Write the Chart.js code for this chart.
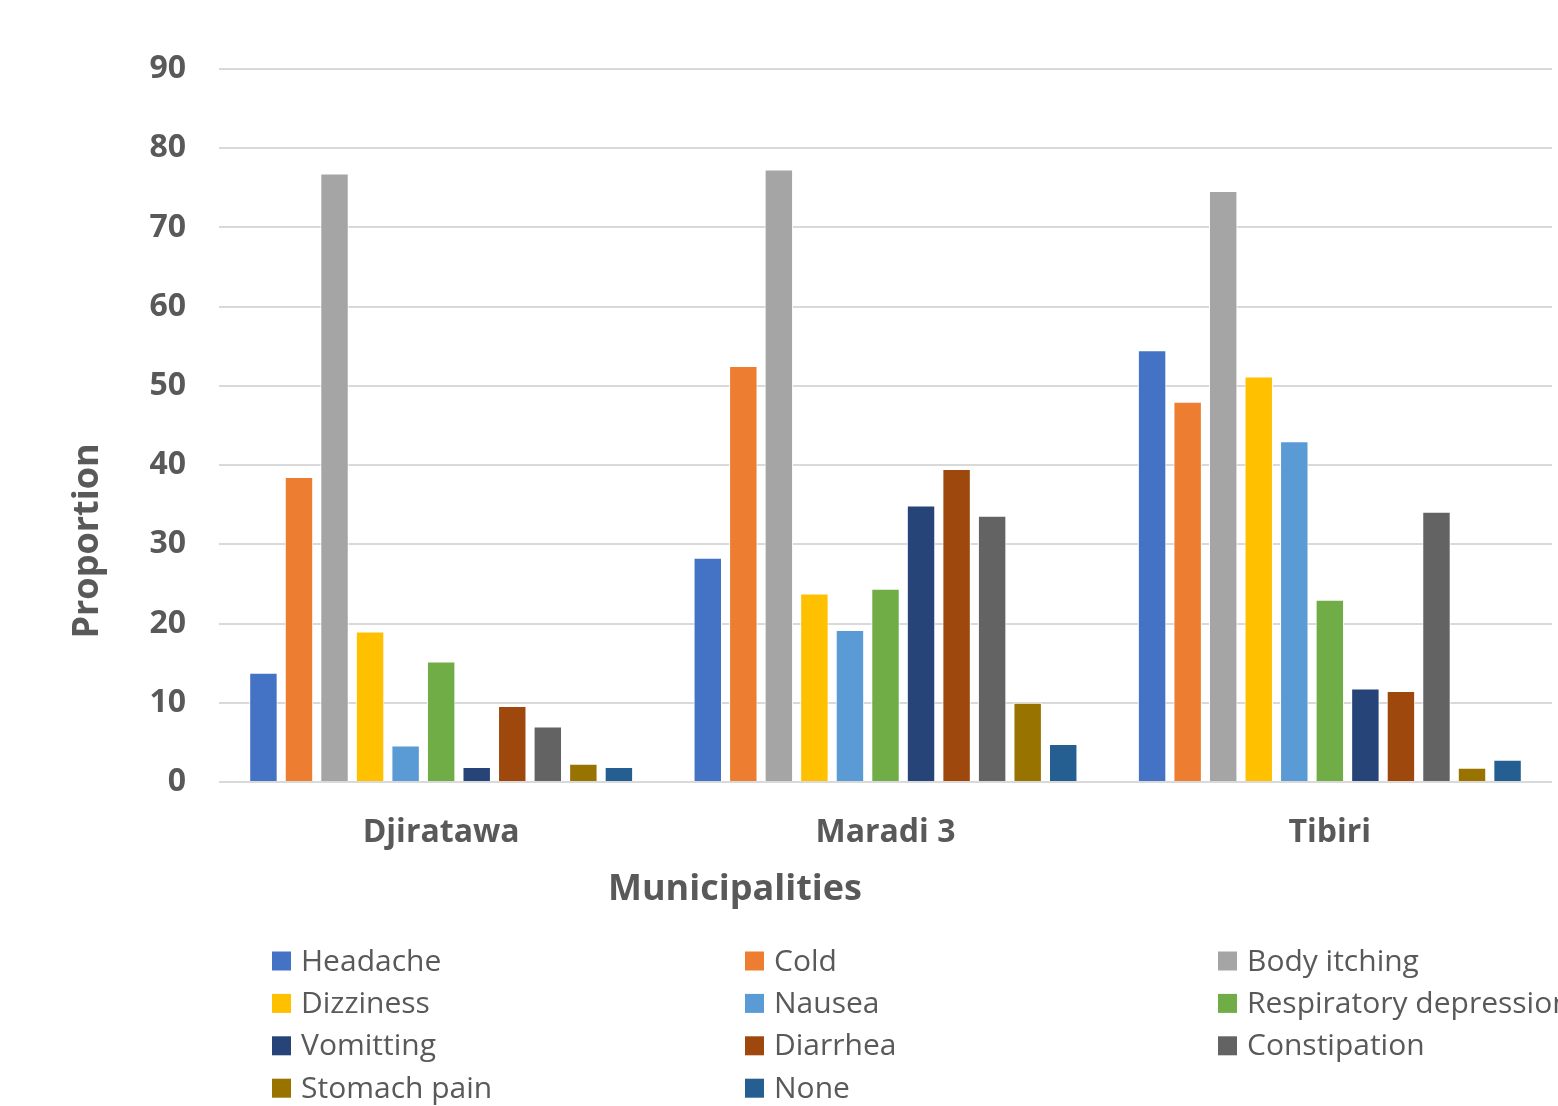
<!DOCTYPE html>
<html>
<head>
<meta charset="utf-8">
<script src="https://cdn.jsdelivr.net/npm/chart.js@4.4.0/dist/chart.umd.min.js"></script>
<style>
  html, body { margin: 0; padding: 0; background: #fff; overflow: hidden; }
  #wrap { width: 1558px; height: 1106px; }
</style>
</head>
<body>
<div id="wrap"><canvas id="symptomChart" width="1558" height="1106"></canvas></div>
<script>
// データ
const municipalities = ['Djiratawa', 'Maradi 3', 'Tibiri'];
const yTicks = [0, 10, 20, 30, 40, 50, 60, 70, 80, 90];

const headache     = [13.8, 28.3, 54.5];
const cold         = [38.5, 52.5, 48.0];
const bodyItching  = [76.8, 77.3, 74.6];
const dizziness    = [19.0, 23.8, 51.2];
const nausea       = [4.6, 19.2, 43.0];
const respiratory  = [15.2, 24.4, 23.0];
const vomitting    = [1.9, 34.9, 11.8];
const diarrhea     = [9.6, 39.5, 11.5];
const constipation = [7.0, 33.6, 34.1];
const stomachPain  = [2.3, 10.0, 1.8];
const none         = [1.9, 4.8, 2.8];

const seriesNames = ['Headache', 'Cold', 'Body itching', 'Dizziness', 'Nausea',
  'Respiratory depression', 'Vomitting', 'Diarrhea', 'Constipation', 'Stomach pain', 'None'];
const seriesValues = [headache, cold, bodyItching, dizziness, nausea,
  respiratory, vomitting, diarrhea, constipation, stomachPain, none];
const seriesColors = ['#4472C4', '#ED7D31', '#A5A5A5', '#FFC000', '#5B9BD5',
  '#70AD47', '#264478', '#9E480E', '#636363', '#997300', '#255E91'];

const TEXT = '#595959';
const GRID = '#d9d9d9';

// 軸タイトルと凡例（Excel風の配置）
const extrasPlugin = {
  id: 'extras',
  afterDraw(chart) {
    const ctx = chart.ctx;
    ctx.save();
    ctx.fillStyle = TEXT;
    ctx.textAlign = 'center';
    ctx.textBaseline = 'middle';
    ctx.font = 'bold 36px "Open Sans"';
    ctx.fillText('Municipalities', 735, 890);
    ctx.save();
    ctx.translate(88, 541);
    ctx.rotate(-Math.PI / 2);
    ctx.fillText('Proportion', 0, 0);
    ctx.restore();

    // 凡例: 3列
    ctx.textAlign = 'left';
    ctx.font = '30px "Open Sans"';
    chart.data.datasets.forEach((ds, i) => {
      const col = i % 3;
      const row = Math.floor(i / 3);
      const x = 272 + col * 473;
      const y = 961 + row * 42.4;
      ctx.fillStyle = ds.backgroundColor;
      ctx.fillRect(x, y - 9.5, 19, 19);
      ctx.fillStyle = TEXT;
      ctx.fillText(ds.label, x + 29, y + 1);
    });
    ctx.restore();
  }
};

new Chart(document.getElementById('symptomChart'), {
  type: 'bar',
  data: {
    labels: municipalities,
    datasets: seriesNames.map((name, i) => ({
      label: name,
      data: seriesValues[i],
      backgroundColor: seriesColors[i],
      borderColor: '#ffffff',
      borderWidth: 1,
      barPercentage: 0.8,
      categoryPercentage: 0.88
    }))
  },
  options: {
    responsive: false,
    animation: false,
    layout: { padding: { top: 69, right: 6, bottom: 0, left: 0 } },
    plugins: {
      legend: { display: false },
      tooltip: { enabled: false }
    },
    scales: {
      x: {
        grid: { display: false },
        border: { display: false },
        ticks: {
          color: TEXT,
          font: { family: 'Open Sans', size: 32, weight: 'bold' },
          padding: 24
        },
        afterFit: s => { s.height = 324; }
      },
      y: {
        min: 0,
        max: 90,
        afterBuildTicks: s => { s.ticks = yTicks.map(v => ({ value: v })); },
        grid: { color: GRID, lineWidth: 2, drawTicks: false },
        border: { display: false },
        ticks: {
          color: TEXT,
          font: { family: 'Open Sans', size: 32, weight: 'bold' },
          padding: 33
        },
        afterFit: s => { s.width = 219; }
      }
    }
  },
  plugins: [extrasPlugin]
});
</script>
</body>
</html>
